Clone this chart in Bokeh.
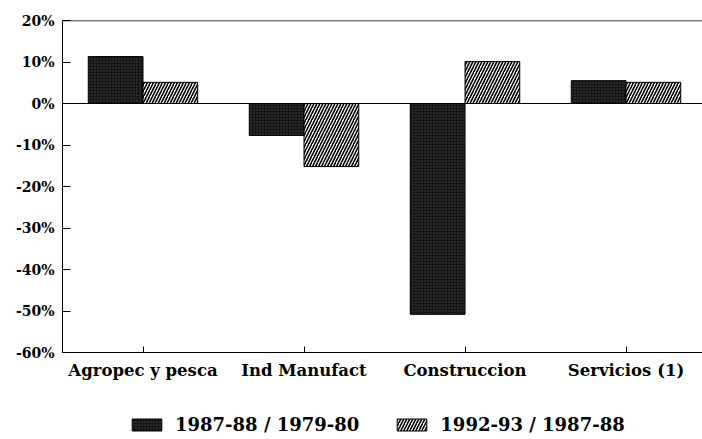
from bokeh.plotting import figure
from bokeh.layouts import column
from bokeh.models import (Range1d, FixedTicker, PrintfTickFormatter, Span,
                          Legend, LegendItem, ColumnDataSource)
from bokeh.embed import file_html
from bokeh.resources import INLINE

# ---- data ----
categories = ["Agropec y pesca", "Ind Manufact", "Construccion", "Servicios (1)"]
series1_name = "1987-88 / 1979-80"
series2_name = "1992-93 / 1987-88"
series1 = [11.3, -7.7, -50.8, 5.5]
series2 = [5.1, -15.2, 10.1, 5.1]
y_ticks = [-60, -50, -40, -30, -20, -10, 0, 10, 20]

FONT = "DejaVu Serif"
centers = [i + 0.5 for i in range(len(categories))]
bw = 0.34

STYLE1 = dict(fill_color="#141414", line_color="black", line_width=1,
              hatch_pattern="dot", hatch_color="#4a4a4a", hatch_scale=3,
              hatch_weight=0.5)
STYLE2 = dict(fill_color="white", line_color="black", line_width=1,
              hatch_pattern="right_diagonal_line", hatch_color="black",
              hatch_scale=6, hatch_weight=1.6)

src1 = ColumnDataSource(dict(x=[c - bw / 2 for c in centers], top=series1))
src2 = ColumnDataSource(dict(x=[c + bw / 2 for c in centers], top=series2))

p = figure(width=702, height=395, output_backend="svg", toolbar_location=None,
           x_range=Range1d(0, 3.975), y_range=Range1d(-60, 20),
           min_border_left=62, min_border_right=0, min_border_top=20,
           min_border_bottom=43)
p.outline_line_color = None
p.xgrid.visible = False
p.ygrid.visible = False
p.background_fill_color = "white"
p.border_fill_color = "white"

p.vbar(x="x", top="top", bottom=0, width=bw, source=src1, **STYLE1)
p.vbar(x="x", top="top", bottom=0, width=bw, source=src2, **STYLE2)

p.add_layout(Span(location=0, dimension="width", line_color="black", line_width=1))
p.add_layout(Span(location=20, dimension="width", line_color="black", line_width=1.5))

# y axis
ya = p.yaxis[0]
ya.ticker = FixedTicker(ticks=y_ticks)
ya.formatter = PrintfTickFormatter(format="%d%%")
ya.major_tick_in = 8
ya.major_tick_out = 0
ya.minor_tick_line_color = None
ya.major_label_standoff = 8
ya.major_label_text_font = FONT
ya.major_label_text_font_style = "bold"
ya.major_label_text_font_size = "14px"
ya.major_label_text_color = "black"
ya.axis_line_color = "black"

# x axis
xa = p.xaxis[0]
xa.ticker = FixedTicker(ticks=centers)
xa.major_label_overrides = {c: name for c, name in zip(centers, categories)}
xa.major_tick_in = 6
xa.major_tick_out = 0
xa.minor_tick_line_color = None
xa.major_label_standoff = 8
xa.major_label_text_font = FONT
xa.major_label_text_font_style = "bold"
xa.major_label_text_font_size = "16.5px"
xa.major_label_text_color = "black"
xa.axis_line_color = "black"

# ---- legend strip below the chart (same data, drawn out of view) ----
lg = figure(width=702, height=44, output_backend="svg", toolbar_location=None,
            x_range=Range1d(0, 3.975), y_range=Range1d(1000, 1001),
            x_axis_type=None, y_axis_type=None,
            min_border_left=62, min_border_right=0, min_border_top=0,
            min_border_bottom=0)
lg.outline_line_color = None
lg.xgrid.visible = False
lg.ygrid.visible = False
lg.border_fill_color = "white"
lg.background_fill_color = "white"
k1 = lg.vbar(x="x", top="top", bottom=0, width=bw, source=src1, **STYLE1)
k2 = lg.vbar(x="x", top="top", bottom=0, width=bw, source=src2, **STYLE2)
legend = Legend(items=[LegendItem(label=series1_name, renderers=[k1]),
                       LegendItem(label=series2_name, renderers=[k2])],
                orientation="horizontal", location=(66, 4),
                padding=0, margin=0, spacing=34,
                glyph_width=37, glyph_height=15, label_standoff=10,
                label_text_font=FONT, label_text_font_style="bold",
                label_text_font_size="18px", label_text_color="black",
                border_line_color=None, background_fill_alpha=0)
lg.add_layout(legend, "center")

open("out.html", "w").write(file_html(column(p, lg), INLINE))
